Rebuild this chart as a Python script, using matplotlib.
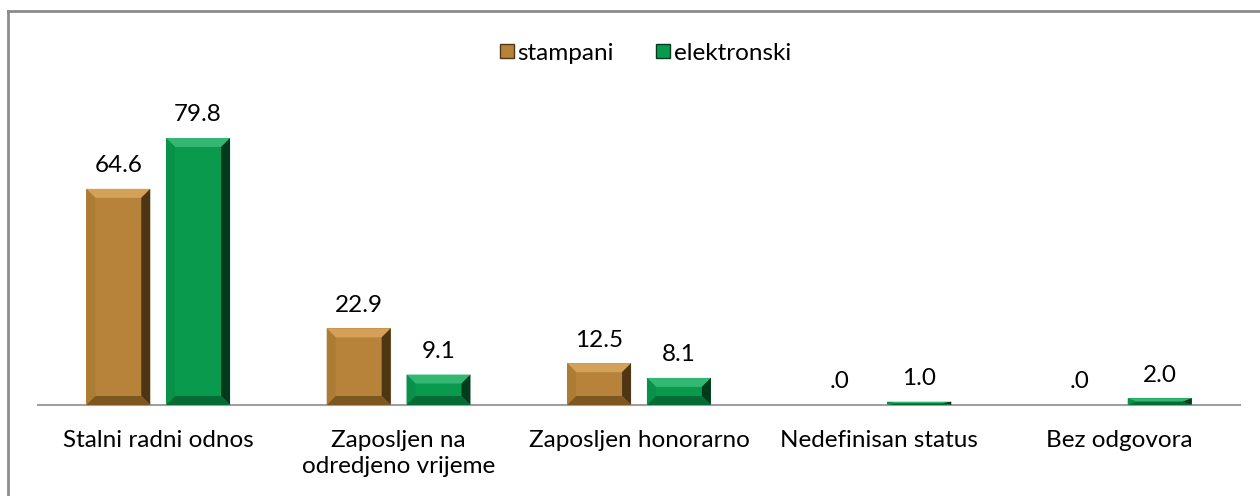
import matplotlib
matplotlib.use("Agg")
import matplotlib.pyplot as plt
from matplotlib.patches import Rectangle, Polygon
from matplotlib.lines import Line2D

plt.rcParams['font.family'] = ['Lato', 'DejaVu Sans']

# data
categories = ["Stalni radni odnos", "Zaposljen na\nodredjeno vrijeme", "Zaposljen honorarno",
              "Nedefinisan status", "Bez odgovora"]
stampani = [64.6, 22.9, 12.5, 0.0, 0.0]
elektronski = [79.8, 9.1, 8.1, 1.0, 2.0]
series_names = ["stampani", "elektronski"]

# face, top, left, right, bottom shades
palettes = {
    "stampani": ["#B7833A", "#D3A157", "#AD7C34", "#4E3513", "#7C5722"],
    "elektronski": ["#0A9A4E", "#33B772", "#09904A", "#023A1C", "#066A35"],
}

fs = 17.5

fig = plt.figure(figsize=(12.6, 4.96), dpi=100)
W, H = 1260, 496
ax = fig.add_axes([38 / W, (H - 405) / H, (1240 - 38) / W, (405 - 95) / H])

n = len(categories)
xs = list(range(n))
width = 0.266
offset = 0.166
ax.set_xlim(-0.5, n - 0.5)
ax.set_ylim(0, 310 / 3.346)

for s in ["top", "right", "left"]:
    ax.spines[s].set_visible(False)
ax.spines["bottom"].set_color("#A0A0A0")
ax.spines["bottom"].set_linewidth(1.5)
ax.set_yticks([])
ax.set_xticks(xs)
ax.set_xticklabels(categories, fontsize=fs, linespacing=1.3)
ax.tick_params(axis="x", length=0, pad=18)

# pixel size of one data unit
px_x = (1240 - 38) / n
px_y = 3.346
bev = 9  # px


def bevel_bar(x, h, pal):
    face, top, left, right, bottom = pal
    x0, x1 = x - width / 2, x + width / 2
    if h <= 0:
        return
    dx = bev / px_x
    dy = min(bev / px_y, h / 2)
    dx = min(dx, width / 2)
    ax.add_patch(Rectangle((x0, 0), width, h, facecolor=face, edgecolor="none", zorder=2))
    ax.add_patch(Polygon([(x0, h), (x1, h), (x1 - dx, h - dy), (x0 + dx, h - dy)],
                         facecolor=top, edgecolor="none", zorder=3))
    ax.add_patch(Polygon([(x0, 0), (x0 + dx, dy), (x0 + dx, h - dy), (x0, h)],
                         facecolor=left, edgecolor="none", zorder=3))
    ax.add_patch(Polygon([(x1, 0), (x1 - dx, dy), (x1 - dx, h - dy), (x1, h)],
                         facecolor=right, edgecolor="none", zorder=3))
    ax.add_patch(Polygon([(x0, 0), (x1, 0), (x1 - dx, dy), (x0 + dx, dy)],
                         facecolor=bottom, edgecolor="none", zorder=3))


def fmt(v):
    s = f"{v:.1f}"
    if s.startswith("0"):
        s = s[1:]
    return s


for name, vals, off in [("stampani", stampani, -offset), ("elektronski", elektronski, offset)]:
    for x, v in zip(xs, vals):
        bevel_bar(x + off, v, palettes[name])
        ax.annotate(fmt(v), (x + off, v), xytext=(0, 9), textcoords="offset points",
                    ha="center", va="bottom", fontsize=fs, color="black")

handles = [Line2D([], [], marker="s", linestyle="none", markersize=10,
                  markerfacecolor=palettes[nm][0], markeredgecolor=palettes[nm][3],
                  markeredgewidth=1) for nm in series_names]
fig.legend(handles, series_names, loc="center", bbox_to_anchor=(645 / W, 1 - 53 / H),
           ncol=2, frameon=False, fontsize=fs, handletextpad=0.15,
           columnspacing=1.7, handlelength=0.6)

# outer frame (top and left edges visible)
fig.add_artist(Line2D([7.5 / W, 1.0], [1 - 10.5 / H, 1 - 10.5 / H], color="#8C8C8C", lw=2,
                      transform=fig.transFigure))
fig.add_artist(Line2D([7.5 / W, 7.5 / W], [0, 1 - 10.5 / H], color="#8C8C8C", lw=2,
                      transform=fig.transFigure))

fig.savefig("out.png", dpi=100)
